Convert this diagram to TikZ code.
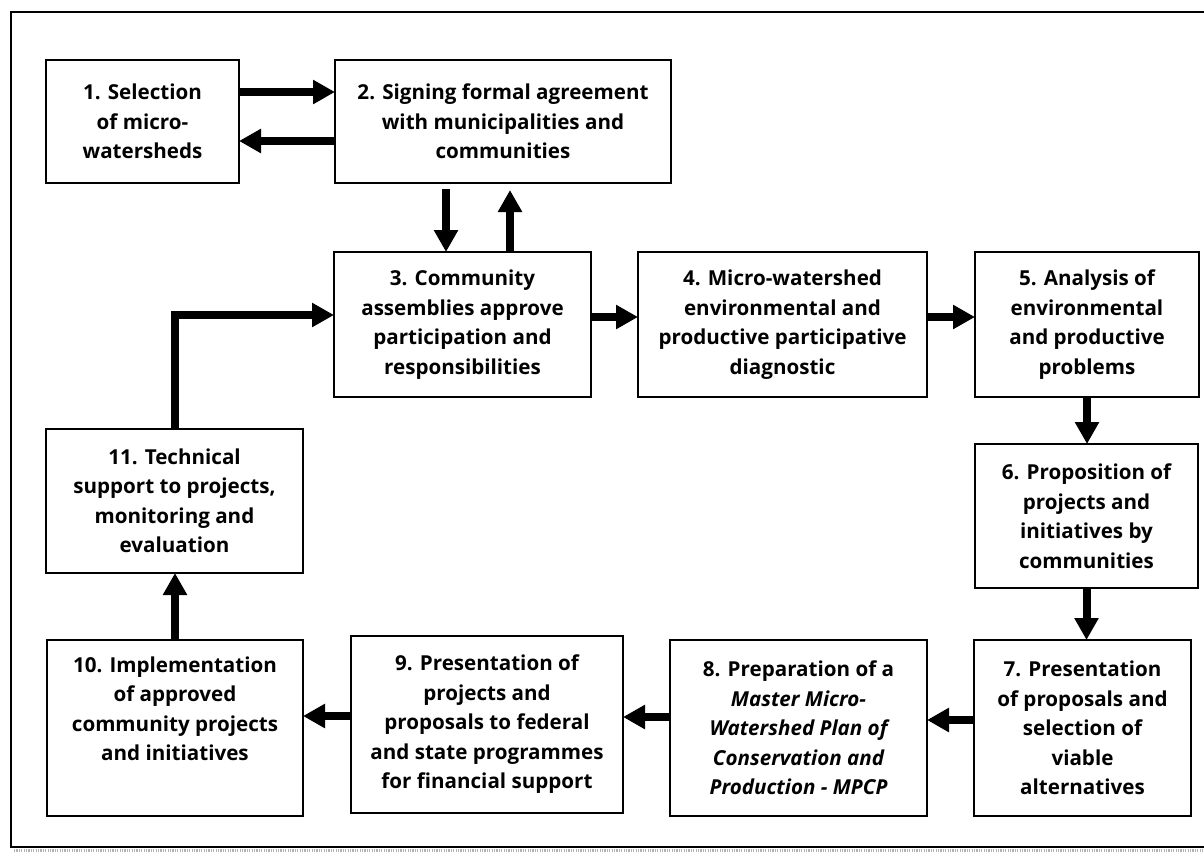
\documentclass[tikz,border=0pt]{standalone}
\usepackage{fontspec}
\setmainfont{Open Sans}
\usetikzlibrary{arrows.meta}

\begin{document}
\begin{tikzpicture}[x=0.5pt, y=-0.5pt,
    box/.style={draw, line width=1pt, inner sep=0pt, outer sep=0pt, align=center,
                font=\fontsize{10.3}{14.75}\selectfont\bfseries},
    arr/.style={line width=4pt, -{Triangle[width=11.5pt,length=11pt]}}]

      % page and outer frame
      \useasboundingbox (0,0) rectangle (1204,852);
      \draw [line width=1pt] (1210,12) -- (11,12) -- (11,847) -- (1210,847);
      \draw [black!30, line width=1.5pt, dash pattern=on 0.6pt off 0.6pt] (14,850.5) -- (1204,850.5);

      % top rows
      \node (B1)  [box, minimum width=96.5pt,  minimum height=61.5pt] at (142.5,121.5)
            {1. Selection\\ of micro-\\ watersheds};
      \node (B2)  [box, minimum width=168pt,   minimum height=61.5pt] at (503,121.5)
            {2. Signing formal agreement\\ with municipalities and\\ communities};
      \node (B3)  [box, minimum width=128.5pt, minimum height=72.5pt] at (462.5,324.5)
            {3. Community\\ assemblies approve\\ participation and\\ responsibilities};
      \node (B4)  [box, minimum width=144.5pt, minimum height=72.5pt] at (782.5,324.5)
            {4. Micro-watershed\\ environmental and\\ productive participative\\ diagnostic};
      \node (B5)  [box, minimum width=112pt,   minimum height=72.5pt] at (1087,324.5)
            {5. Analysis of\\ environmental\\ and productive\\ problems};
      \node (B6)  [box, minimum width=111.5pt, minimum height=72pt]   at (1086.5,516)
            {6. Proposition of\\ projects and\\ initiatives by\\ communities};

      % bottom row
      \node (B7)  [box, minimum width=108.5pt, minimum height=88pt]   at (1082.5,728)
            {7. Presentation\\ of proposals and\\ selection of\\ viable\\ alternatives};
      \node (B8)  [box, minimum width=128.5pt, minimum height=88pt]   at (798.5,728)
            {8. Preparation of a\\ \itshape Master Micro-\\ \itshape Watershed Plan of\\
             \itshape Conservation and\\ \itshape Production - MPCP};
      \node (B9)  [box, minimum width=136pt,   minimum height=88.5pt] at (487,724.5)
            {9. Presentation of\\ projects and\\ proposals to federal\\ and state programmes\\ for financial support};
      \node (B10) [box, minimum width=128pt,   minimum height=88pt]   at (175,728)
            {10. Implementation\\ of approved\\ community projects\\ and initiatives\\ \strut};
      \node (B11) [box, minimum width=128.5pt, minimum height=72pt]   at (174.5,501)
            {11. Technical\\ support to projects,\\ monitoring and\\ evaluation};

      % arrows
      \draw [arr] ([yshift=14.75pt]B1.east) -- ([yshift=14.75pt]B2.west);
      \draw [arr] ([yshift=-9.75pt]B2.west) -- ([yshift=-9.75pt]B1.east);
      \draw [arr, shorten <=3pt] ([xshift=-28.5pt]B2.south) -- ([xshift=-28.5pt]B2.south |- B3.north);
      \draw [arr, shorten >=3.5pt] ([xshift=23.75pt]B3.north) -- ([xshift=23.75pt]B3.north |- B2.south);
      \draw [arr] ([yshift=3.75pt]B3.east) -- ([yshift=3.75pt]B3.east -| B4.west);
      \draw [arr] ([yshift=3.75pt]B4.east) -- ([yshift=3.75pt]B4.east -| B5.west);
      \draw [arr] (B5.south) -- (B5.south |- B6.north);
      \draw [arr] (B6.south) -- (B6.south |- B7.north);
      \draw [arr] ([yshift=4pt]B7.west) -- ([yshift=4pt]B7.west -| B8.east);
      \draw [arr] ([yshift=5.5pt]B8.west) -- ([yshift=5.5pt]B8.west -| B9.east);
      \draw [arr] ([yshift=4.25pt]B9.west) -- ([yshift=4.25pt]B9.west -| B10.east);
      \draw [arr] (B10.north) -- (B10.north |- B11.south);
      \draw [arr] (B11.north) |- ([yshift=4.75pt]B3.west);
    \end{tikzpicture}
\end{document}
